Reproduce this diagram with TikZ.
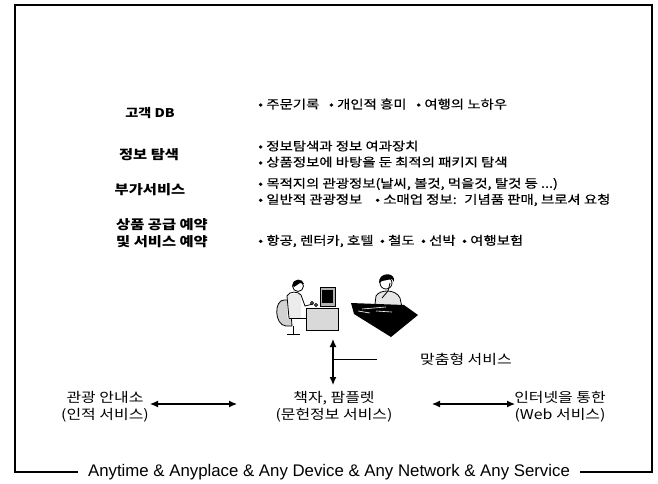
\documentclass[tikz,border=0pt]{standalone}
\usepackage{fontspec}
\setmainfont{Noto Sans CJK KR}
\newfontfamily\itemfont{Noto Sans CJK KR}[FakeStretch=1.2,FakeBold=0.6]
\newfontfamily\wide{Noto Sans CJK KR}[FakeStretch=1.18]
\newfontfamily\lat{Liberation Sans}
\usetikzlibrary{arrows.meta}
\begin{document}
\begin{tikzpicture}[x=1pt,y=-1pt,
  head/.style={font=\wide\bfseries\fontsize{13}{17}\selectfont,align=center,inner sep=0pt},
  item/.style={font=\itemfont\fontsize{12}{14}\selectfont,anchor=west,inner sep=0pt},
  chan/.style={font=\wide\fontsize{13.5}{17}\selectfont,align=center,inner sep=0pt},
  frame/.style={line width=1.1pt},
  biarrow/.style={line width=1.2pt,{Latex[length=8pt,width=7pt]}-{Latex[length=8pt,width=7pt]}}]
\useasboundingbox (0,0) rectangle (658,483);

% outer frame, open at the bottom for the slogan
\node[font=\lat\fontsize{16.8}{19}\selectfont,inner sep=0pt] (slogan) at (329,472)
  {Anytime \& Anyplace \& Any Device \& Any Network \& Any Service};
\coordinate (bl) at (15,472);
\coordinate (br) at (652,472);
\draw[frame] ([xshift=-10pt]slogan.west |- bl) -- (bl) -- (15,5) -- (652,5) -- (br) -- ([xshift=10pt]slogan.east |- br);

% service categories
\node[head,font=\wide\bfseries\fontsize{12}{15}\selectfont] (db) at (150,113) {고객 DB};
\node[head] (srch) at (149,155) {정보 탐색};
\node[head] (add)  at (150,190) {부가서비스};
\node[head] (book) at (162,233) {상품 공급 예약\\및 서비스 예약};

% details of each category
\node[item] (i1) at (258,104) {• 주문기록 \ \ • 개인적 흥미 \ \ • 여행의 노하우};
\node[item] (i2) at (258,146) {• 정보탐색과 정보 여과장치};
\node[item] (i3) at (258,162) {• 상품정보에 바탕을 둔 최적의 패키지 탐색};
\node[item] (i4) at (258,184) {• 목적지의 관광정보(날씨, 볼것, 먹을것, 탈것 등 ...)};
\node[item] (i5) at (258,200) {• 일반적 관광정보 \ \ \ • 소매업 정보: \ 기념품 판매, 브로셔 요청};
\node[item] (i6) at (258,241) {• 항공, 렌터카, 호텔 \ • 철도 \ • 선박 \ • 여행보험};

% clerk at a computer desk
\begin{scope}[line width=0.8pt]
  % chair
  \draw[fill=gray!35] (284,300) .. controls (274,300) and (274,325) .. (286,326) -- (292,326) -- (290,300) -- cycle;
  \draw (293,326) -- (293,334);
  \draw (287,334) -- (300,334);
  % body
  \fill[gray!15] (287,294) rectangle (301,318);
  \draw (289,318) -- (287,296) .. controls (289,291) and (298,291) .. (301,295) -- (305,306) -- (313,304);
  \draw (296,318) -- (306,318) -- (306,330);
  \draw (289,318) -- (296,318);
  % head
  \draw[fill=white] (298,286) circle (5.5);
  \fill (292.5,285) .. controls (293,278) and (303,278) .. (304,284) -- (300,283) -- (294,287) -- cycle;
  % monitor
  \draw[fill=gray!60] (320,287) rectangle (335,306);
  \fill[black] (322,290) rectangle (333,303);
  \draw (312,303) circle (1.5) (316,305) circle (1.5);
  % desk
  \draw[fill=gray!30] (306,308) rectangle (338,330);
  \draw (306,308) -- (338,308);
\end{scope}

% agent at a counter
\begin{scope}[line width=0.8pt]
  % body
  \draw[fill=gray!20] (374,312) -- (376,296) .. controls (380,289) and (396,289) .. (400,298) -- (403,312) -- cycle;
  % head and hair
  \draw[fill=white] (386,283) circle (6);
  \fill (379,283) .. controls (378,272) and (396,271) .. (394,282) -- (392,279) -- (382,281) -- cycle;
  \draw (390,283) -- (388,291) -- (382,298);
  % counter
  \fill[black] (351,303) -- (404,305) -- (418,315) -- (391,337) -- (354,314) -- cycle;
  \draw[white,line width=0.6pt] (362,309) -- (386,307) (376,311) -- (392,312) (358,311) -- (370,313);
\end{scope}
\node[minimum width=70pt,minimum height=60pt,inner sep=0pt] (art) at (345,305) {};

% delivery channels
\node[chan] (human) at (105,407) {관광 안내소\\(인적 서비스)};
\node[chan] (print) at (334,407) {책자, 팜플렛\\(문헌정보 서비스)};
\node[chan] (web)   at (560,407) {인터넷을 통한\\(Web 서비스)};

\coordinate (a1) at (150,404);
\coordinate (a2) at (237,404);
\coordinate (a3) at (432,404);
\coordinate (a4) at (515,404);
\draw[biarrow] (a1) -- (a2);
\draw[biarrow] (a3) -- (a4);

% customised service link
\coordinate (vtop) at (333,339);
\coordinate (vbot) at (333,385);
\coordinate (vmid) at (333,359);
\coordinate (vend) at (377,359);
\draw[biarrow] (vtop) -- (vbot);
\node[font=\wide\fontsize{13.5}{15}\selectfont,anchor=west,inner sep=0pt] (custom) at (420,359) {맞춤형 서비스};
\draw[line width=0.9pt] (vmid) -- (vend);
\end{tikzpicture}
\end{document}
